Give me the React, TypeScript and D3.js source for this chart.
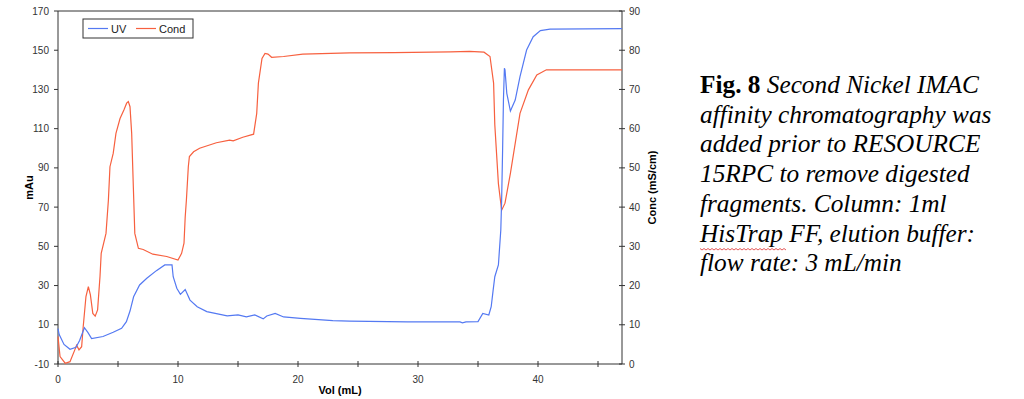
import React from "react";
import * as d3 from "d3";

const uvX = [0, 0.1, 0.5, 1.0, 1.5, 1.8, 2.2, 2.5, 2.8, 3.75, 4.6, 5.3, 5.7, 6.0, 6.3, 6.8, 7.4, 8.2, 8.9, 9.5, 9.6, 9.9, 10.2, 10.6, 11.0, 11.6, 12.4, 14.1, 15.0, 15.7, 16.4, 17.1, 17.4, 18.1, 18.8, 20.2, 22.9, 24.3, 29.1, 33.5, 33.7, 34.0, 35.0, 35.4, 35.9, 36.1, 36.25, 36.4, 36.7, 36.9, 36.97, 37.05, 37.12, 37.2, 37.25, 37.4, 37.7, 38.1, 38.5, 39.05, 39.6, 40.2, 41.0, 47];
const uvY = [8, 5, 0, -2.5, -1.5, 2, 8.5, 6, 3, 4, 6.2, 8.2, 11.6, 17, 24.3, 30.3, 33.7, 37.6, 40.5, 40.5, 34.5, 28.6, 25.5, 28, 22.6, 19.2, 16.7, 14.5, 15, 14, 15, 13, 14.5, 15.8, 14, 13.3, 12.1, 11.9, 11.5, 11.5, 11, 11.5, 11.6, 15.8, 15, 19.2, 27, 34.5, 40.5, 58.3, 73.6, 99, 124.6, 140.8, 140, 128, 119, 124.6, 136.5, 150.1, 156.9, 160, 160.8, 161];

const condX = [0, 0.17, 0.6, 1.0, 1.4, 1.55, 1.75, 1.97, 2.1, 2.33, 2.53, 2.7, 2.9, 3.1, 3.3, 3.5, 3.6, 4.0, 4.2, 4.33, 4.6, 4.83, 5.17, 5.5, 5.72, 5.86, 6.0, 6.14, 6.28, 6.4, 6.7, 7.1, 7.9, 9.06, 10.0, 10.3, 10.5, 10.6, 10.7, 10.86, 10.95, 11.3, 11.8, 13.2, 14.3, 14.6, 15.4, 16.3, 16.56, 16.7, 17.0, 17.25, 17.5, 17.8, 18.8, 20.4, 24.3, 28.0, 32.7, 34.3, 35.5, 36.0, 36.3, 36.4, 36.7, 36.97, 37.25, 37.7, 38.5, 39.2, 39.9, 40.7, 47];
const condY = [7, 1.9, 0.2, 0.6, 3.6, 4.8, 3.6, 4.4, 9.5, 17.2, 19.7, 17.6, 12.9, 12.2, 13.8, 22.3, 28.2, 33.3, 41.8, 50.3, 53.7, 58.8, 62.6, 64.8, 66.5, 66.9, 65.6, 58.8, 45, 33.3, 29.5, 29.2, 28.0, 27.4, 26.5, 28.2, 30.8, 37.5, 41.8, 50.3, 52.9, 54.1, 55, 56.4, 57.1, 56.9, 57.8, 58.6, 63.9, 71.6, 77.9, 79.2, 79.0, 78.2, 78.4, 79, 79.3, 79.4, 79.6, 79.7, 79.5, 78.4, 71.6, 61, 46, 39.2, 41, 48.6, 63.9, 69.9, 73.7, 75, 75];

const leftTicks = [-10, 10, 30, 50, 70, 90, 110, 130, 150, 170];
const rightTicks = [0, 10, 20, 30, 40, 50, 60, 70, 80, 90];
const xTicks = [0, 5, 10, 15, 20, 25, 30, 35, 40, 45];
const xLabels = [0, 10, 20, 30, 40];

const captionLines = [
  "affinity chromatography was",
  "added prior to RESOURCE",
  "15RPC to remove digested",
  "fragments. Column: 1ml",
];

const UV_COLOR = "#5479f2";
const COND_COLOR = "#f7603f";
const AXIS = "#333";

export default function App() {
  const L = 58, R = 622, T = 11, B = 364;
  const x = d3.scaleLinear().domain([0, 47]).range([L, R]);
  const yL = d3.scaleLinear().domain([-10, 170]).range([B, T]);
  const yR = d3.scaleLinear().domain([0, 90]).range([B, T]);

  const uvLine = d3.line<number>().x((_, i) => x(uvX[i])).y((d) => yL(d));
  const condLine = d3.line<number>().x((_, i) => x(condX[i])).y((d) => yR(d));

  const sans = "'Liberation Sans', Arial, sans-serif";
  const serif = "'Liberation Serif', 'Times New Roman', serif";
  const capX = 700;
  const capY0 = 93;
  const lh = 29.7;
  const fs = 25.3;

  // wavy underline path under "HisTrap"
  const wavePts: [number, number][] = [];
  const wStart = capX, wEnd = capX + 86, wy = capY0 + 5 * lh + 7;
  for (let px = wStart, k = 0; px <= wEnd; px += 2, k++) {
    wavePts.push([px, wy + (k % 2 === 0 ? 0 : 1.5)]);
  }
  const wave = d3.line()(wavePts) || "";

  return (
    <svg width={1024} height={399} style={{ position: "absolute", left: 0, top: 0, background: "#fff" }}>
      <rect x={0} y={0} width={1024} height={399} fill="#fff" />
      {/* frame */}
      <line x1={L} y1={T} x2={R} y2={T} stroke={AXIS} strokeWidth={1} />
      <line x1={L} y1={T} x2={L} y2={B} stroke={AXIS} strokeWidth={1} />
      <line x1={R} y1={T} x2={R} y2={B} stroke={AXIS} strokeWidth={1} />
      <line x1={L} y1={B} x2={R} y2={B} stroke={AXIS} strokeWidth={1} />

      {/* left ticks */}
      {leftTicks.map((t) => (
        <g key={"l" + t}>
          <line x1={L - 4} x2={L} y1={yL(t)} y2={yL(t)} stroke={AXIS} />
          <text x={L - 9} y={yL(t) + 3.5} fontSize={10} fontFamily={sans} fill={AXIS} textAnchor="end">{t}</text>
        </g>
      ))}
      {/* right ticks */}
      {rightTicks.map((t) => (
        <g key={"r" + t}>
          <line x1={R - 3} x2={R + 3} y1={yR(t)} y2={yR(t)} stroke={AXIS} />
          <text x={R + 7} y={yR(t) + 3.5} fontSize={10} fontFamily={sans} fill={AXIS} textAnchor="start">{t}</text>
        </g>
      ))}
      {/* x ticks */}
      {xTicks.map((t) => (
        <line key={"x" + t} x1={x(t)} x2={x(t)} y1={B - 3} y2={B + 3} stroke={AXIS} />
      ))}
      {xLabels.map((t) => (
        <text key={"xl" + t} x={x(t)} y={B + 19} fontSize={10} fontFamily={sans} fill={AXIS} textAnchor="middle">{t}</text>
      ))}

      {/* axis titles */}
      <text x={340} y={394} fontSize={11} fontWeight="bold" fontFamily={sans} fill="#000" textAnchor="middle">Vol (mL)</text>
      <text transform={`translate(33,${(T + B) / 2}) rotate(-90)`} fontSize={11} fontWeight="bold" fontFamily={sans} fill="#000" textAnchor="middle">mAu</text>
      <text transform={`translate(656,${(T + B) / 2}) rotate(-90)`} fontSize={11} fontWeight="bold" fontFamily={sans} fill="#000" textAnchor="middle">Conc (mS/cm)</text>

      {/* series */}
      <path d={condLine(condY) || ""} fill="none" stroke={COND_COLOR} strokeWidth={1.2} />
      <path d={uvLine(uvY) || ""} fill="none" stroke={UV_COLOR} strokeWidth={1.2} />

      {/* legend */}
      <rect x={83} y={19} width={110} height={19} fill="#fff" stroke={AXIS} strokeWidth={1} />
      <line x1={88} x2={108} y1={28.5} y2={28.5} stroke={UV_COLOR} strokeWidth={1.2} />
      <text x={111} y={32.5} fontSize={11} fontFamily={sans} fill="#222">UV</text>
      <line x1={136} x2={156} y1={28.5} y2={28.5} stroke={COND_COLOR} strokeWidth={1.2} />
      <text x={159} y={32.5} fontSize={11} fontFamily={sans} fill="#222">Cond</text>

      {/* caption */}
      <text x={capX} y={capY0} fontSize={fs} fontFamily={serif} fill="#000">
        <tspan fontWeight="bold">Fig. 8</tspan>
        <tspan fontStyle="italic"> Second Nickel IMAC</tspan>
      </text>
      {captionLines.map((s, i) => (
        <text key={"c" + i} x={capX} y={capY0 + (i + 1) * lh} fontSize={fs} fontFamily={serif} fontStyle="italic" fill="#000">{s}</text>
      ))}
      <text x={capX} y={capY0 + 5 * lh} fontSize={fs} fontFamily={serif} fontStyle="italic" fill="#000">HisTrap FF, elution buffer:</text>
      <path d={wave} fill="none" stroke="#e03030" strokeWidth={0.8} />
      <text x={capX} y={capY0 + 6 * lh} fontSize={fs} fontFamily={serif} fontStyle="italic" fill="#000">flow rate: 3 mL/min</text>
    </svg>
  );
}
